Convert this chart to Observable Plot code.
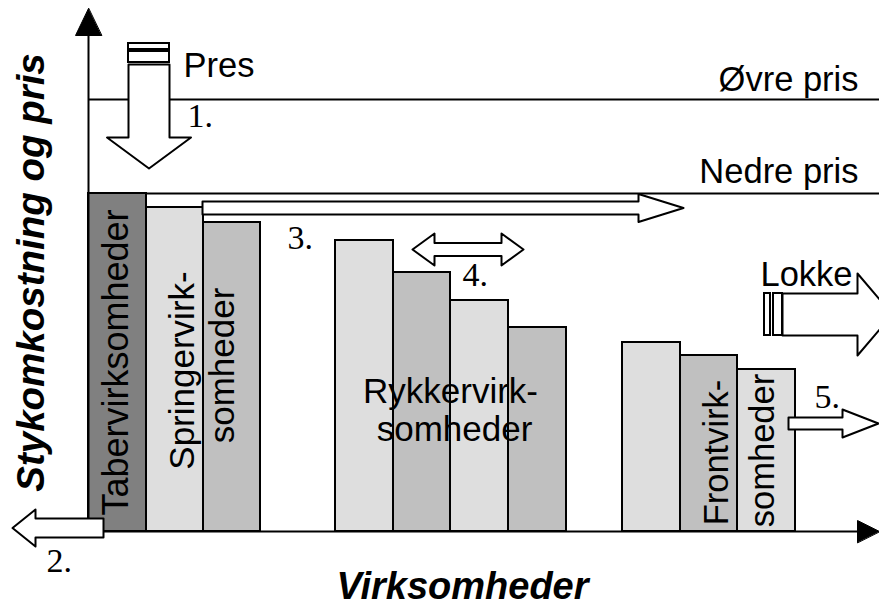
<!DOCTYPE html>
<html>
<head>
<meta charset="utf-8">
<script src="https://cdn.jsdelivr.net/npm/d3@7"></script>
<script src="https://cdn.jsdelivr.net/npm/@observablehq/plot@0.6"></script>
<style>
  html, body { margin: 0; padding: 0; background: #ffffff; }
  #chart svg { display: block; }
</style>
</head>
<body>
<div id="chart"></div>
<script>
// ---- Data (firm groups along x, unit cost on y; baseline = 0) ----
const firmNames   = ["Taber", "Springer", "Springer", "Rykker", "Rykker", "Rykker", "Rykker", "Front", "Front", "Front"];
const firmStart   = [88, 146, 203, 335, 393, 450, 508, 622, 680, 737];
const firmEnd     = [146, 203, 260, 393, 450, 508, 566, 680, 737, 795];
const unitCost    = [338, 324, 309, 291, 259, 231, 204, 189, 176, 162];
const firmShade   = ["dark", "light", "mid", "light", "mid", "light", "mid", "light", "mid", "light"];
const upperPrice  = 432;   // Øvre pris
const lowerPrice  = 338;   // Nedre pris
const priceLabels = ["Øvre pris", "Nedre pris"];
const stepLabels  = ["1.", "2.", "3.", "4.", "5."];

const shadeColor = {dark: "#808080", light: "#dedede", mid: "#c0c0c0"};

const bars = firmNames.map((n, i) => ({name: n, x1: firmStart[i], x2: firmEnd[i], cost: unitCost[i], shade: firmShade[i]}));

// ---- Arrow polygons built from their parameters ----
function hArrow(id, x0, x1, yc, sh, hh, hl) {
  const d = Math.sign(x1 - x0), xb = x1 - d * hl;
  return [[x0, yc + sh], [xb, yc + sh], [xb, yc + hh], [x1, yc], [xb, yc - hh], [xb, yc - sh], [x0, yc - sh]]
    .map(([x, y]) => ({id, x, y}));
}
function dArrow(id, xa, xb, yc, sh, hh, hl) {
  return [[xa, yc], [xa + hl, yc + hh], [xa + hl, yc + sh], [xb - hl, yc + sh], [xb - hl, yc + hh], [xb, yc],
          [xb - hl, yc - hh], [xb - hl, yc - sh], [xa + hl, yc - sh], [xa + hl, yc - hh]]
    .map(([x, y]) => ({id, x, y}));
}
function downArrow(id, xc, y0, y1, sw, hw, hl) {
  const yb = y1 + hl;
  return [[xc - sw, y0], [xc + sw, y0], [xc + sw, yb], [xc + hw, yb], [xc, y1], [xc - hw, yb], [xc - sw, yb]]
    .map(([x, y]) => ({id, x, y}));
}

const arrows = [
  ...downArrow("pres", 148.5, 467, 363, 20.5, 42, 31),
  ...hArrow("2", 103, 12, 3.5, 9.5, 18.5, 23),
  ...hArrow("3", 202, 683, 323.5, 6.5, 14, 45),
  ...dArrow("4", 412, 523, 282, 6.5, 16, 22),
  ...hArrow("5", 788, 878, 108, 6, 14, 36),
  ...hArrow("lokke", 782, 892, 217, 21, 41, 35)
];
const axisHeads = [
  ...[[88, 523], [75, 496], [101, 496]].map(([x, y]) => ({id: "y", x, y})),
  ...[[879, 0], [857, 11], [857, -11]].map(([x, y]) => ({id: "x", x, y}))
];
const stripes = [
  {x1: 128, x2: 169, y1: 482, y2: 488},
  {x1: 128, x2: 169, y1: 469, y2: 480},
  {x1: 764, x2: 770, y1: 196, y2: 238},
  {x1: 773, x2: 782, y1: 196, y2: 238}
];

const sans = "'Liberation Sans', Arial, sans-serif";
const serif = "'Liberation Serif', 'Times New Roman', serif";

const chart = Plot.plot({
  width: 879,
  height: 609,
  margin: 0,
  style: {background: "#ffffff", overflow: "hidden"},
  x: {domain: [0, 879], range: [0, 879], axis: null},
  y: {domain: [-78, 531], range: [609, 0], axis: null},
  marks: [
    // price lines
    Plot.ruleY([upperPrice, lowerPrice], {x1: 88, x2: 879, stroke: "black", strokeWidth: 2}),
    // bars
    Plot.rect(bars, {x1: "x1", x2: "x2", y1: 0, y2: "cost", fill: d => shadeColor[d.shade], stroke: "black", strokeWidth: 2}),
    // axes
    Plot.ruleX([88], {y1: 0, y2: 500, stroke: "black", strokeWidth: 2}),
    Plot.ruleY([0], {x1: 88, x2: 860, stroke: "black", strokeWidth: 2}),
    Plot.line(axisHeads, {x: "x", y: "y", z: "id", fill: "black", stroke: "black", strokeWidth: 1, curve: "linear-closed"}),
    // arrows
    Plot.line(arrows, {x: "x", y: "y", z: "id", fill: "white", stroke: "black", strokeWidth: 2, curve: "linear-closed"}),
    Plot.rect(stripes, {x1: "x1", x2: "x2", y1: "y1", y2: "y2", fill: "white", stroke: "black", strokeWidth: 2}),
    // price labels
    Plot.text([priceLabels[0]], {x: 858, y: 452, text: d => d, textAnchor: "end", lineAnchor: "middle", fontSize: 34.5, fontFamily: sans}),
    Plot.text([priceLabels[1]], {x: 858, y: 360, text: d => d, textAnchor: "end", lineAnchor: "middle", fontSize: 34.5, fontFamily: sans}),
    Plot.text(["Pres"], {x: 183, y: 466, text: d => d, textAnchor: "start", lineAnchor: "middle", fontSize: 34.5, fontFamily: sans}),
    Plot.text(["Lokke"], {x: 760, y: 257, text: d => d, textAnchor: "start", lineAnchor: "middle", fontSize: 34.5, fontFamily: sans}),
    // step numbers
    Plot.text(stepLabels, {
      x: [187, 46, 287, 462, 814], y: [415, -30, 293, 256, 134], text: d => d,
      textAnchor: "start", lineAnchor: "middle", fontSize: 34, fontFamily: serif
    }),
    // firm-group labels
    Plot.text(["Tabervirksomheder"], {x: 116, y: 169, text: d => d, rotate: -90, lineAnchor: "middle", fontSize: 36, fontFamily: sans}),
    Plot.text(["Springervirk-"], {x: 182, y: 161, text: d => d, rotate: -90, lineAnchor: "middle", fontSize: 35, fontFamily: sans}),
    Plot.text(["somheder"], {x: 222, y: 166, text: d => d, rotate: -90, lineAnchor: "middle", fontSize: 35, fontFamily: sans}),
    Plot.text(["Rykkervirk-"], {x: 450, y: 140, text: d => d, lineAnchor: "middle", fontSize: 35, fontFamily: sans}),
    Plot.text(["somheder"], {x: 454, y: 102, text: d => d, lineAnchor: "middle", fontSize: 35, fontFamily: sans}),
    Plot.text(["Frontvirk-"], {x: 716, y: 79, text: d => d, rotate: -90, lineAnchor: "middle", fontSize: 34.5, fontFamily: sans}),
    Plot.text(["somheder"], {x: 762, y: 81, text: d => d, rotate: -90, lineAnchor: "middle", fontSize: 34.5, fontFamily: sans}),
    // axis titles
    Plot.text(["Stykomkostning og pris"], {x: 31, y: 259, text: d => d, rotate: -90, lineAnchor: "middle", fontSize: 38.5, fontWeight: "bold", fontStyle: "italic", fontFamily: sans}),
    Plot.text(["Virksomheder"], {x: 462, y: -55, text: d => d, lineAnchor: "middle", fontSize: 38, fontWeight: "bold", fontStyle: "italic", fontFamily: sans})
  ]
});
document.getElementById("chart").appendChild(chart);
</script>
</body>
</html>
